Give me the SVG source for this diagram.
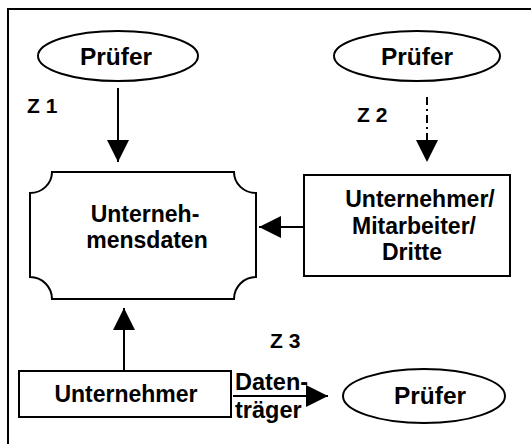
<svg xmlns="http://www.w3.org/2000/svg" width="531" height="444" viewBox="0 0 531 444">
<style>
.s{fill:#fff;stroke:#000;stroke-width:2}
.t{font-family:"Liberation Sans",Arial,sans-serif;font-weight:bold;font-size:23px;fill:#000;text-anchor:middle}
.p{font-size:24.5px}
.z{font-family:"Liberation Sans",Arial,sans-serif;font-weight:bold;font-size:21px;fill:#000}
.c{stroke:#000;stroke-width:2;fill:none}
</style>
<defs>
<marker id="ah" markerUnits="userSpaceOnUse" markerWidth="22" markerHeight="22" viewBox="0 0 22 22" refX="22" refY="11" orient="auto">
<path d="M0,0 L22,11 L0,22 Z" fill="#000"/>
</marker>
</defs>
<rect x="0" y="0" width="531" height="444" fill="#fff"/>
<rect x="8" y="9" width="560" height="480" fill="none" stroke="#000" stroke-width="2"/>
<g id="pruefer1"><ellipse class="s" cx="118" cy="56" rx="80" ry="25"/><text class="t p" x="116" y="65">Prüfer</text></g>
<g id="pruefer2"><ellipse class="s" cx="417" cy="56" rx="83" ry="25"/><text class="t p" x="417" y="65">Prüfer</text></g>
<g id="daten">
<path class="s" d="M52,172 L234,172 A22,21 0 0 0 256,193 L256,277 A22,22 0 0 0 234,299 L52,299 A22,22 0 0 0 30,277 L30,193 A22,21 0 0 0 52,172 Z"/>
<text class="t" x="145" y="222">Unterneh-</text>
<text class="t" x="147" y="248">mensdaten</text>
</g>
<g id="mitarbeiter"><rect class="s" x="304" y="175" width="206" height="101"/>
<text class="t" x="420" y="207">Unternehmer/</text>
<text class="t" x="414" y="234">Mitarbeiter/</text>
<text class="t" x="412" y="260">Dritte</text>
</g>
<g id="unternehmer"><rect class="s" x="19" y="371" width="212" height="46"/><text class="t" x="126" y="402">Unternehmer</text></g>
<g id="pruefer3"><ellipse class="s" cx="424" cy="396" rx="81" ry="27"/><text class="t p" x="430" y="404">Prüfer</text></g>
<g id="connectors">
<line class="c" x1="118" y1="88" x2="118" y2="162" marker-end="url(#ah)"/>
<line class="c" x1="427" y1="97" x2="427" y2="162" stroke-dasharray="8,4,2,4" marker-end="url(#ah)"/>
<line class="c" x1="304" y1="227" x2="259" y2="227" marker-end="url(#ah)"/>
<line class="c" x1="124" y1="370" x2="124" y2="308" marker-end="url(#ah)"/>
<line class="c" x1="233" y1="396" x2="328" y2="396" marker-end="url(#ah)"/>
</g>
<text class="z" x="27" y="113">Z 1</text>
<text class="z" x="357" y="122">Z 2</text>
<text class="z" x="270" y="348">Z 3</text>
<text class="z" x="235" y="390" style="font-size:23.5px">Daten-</text>
<text class="z" x="235" y="418" style="font-size:23.5px">träger</text>
</svg>
